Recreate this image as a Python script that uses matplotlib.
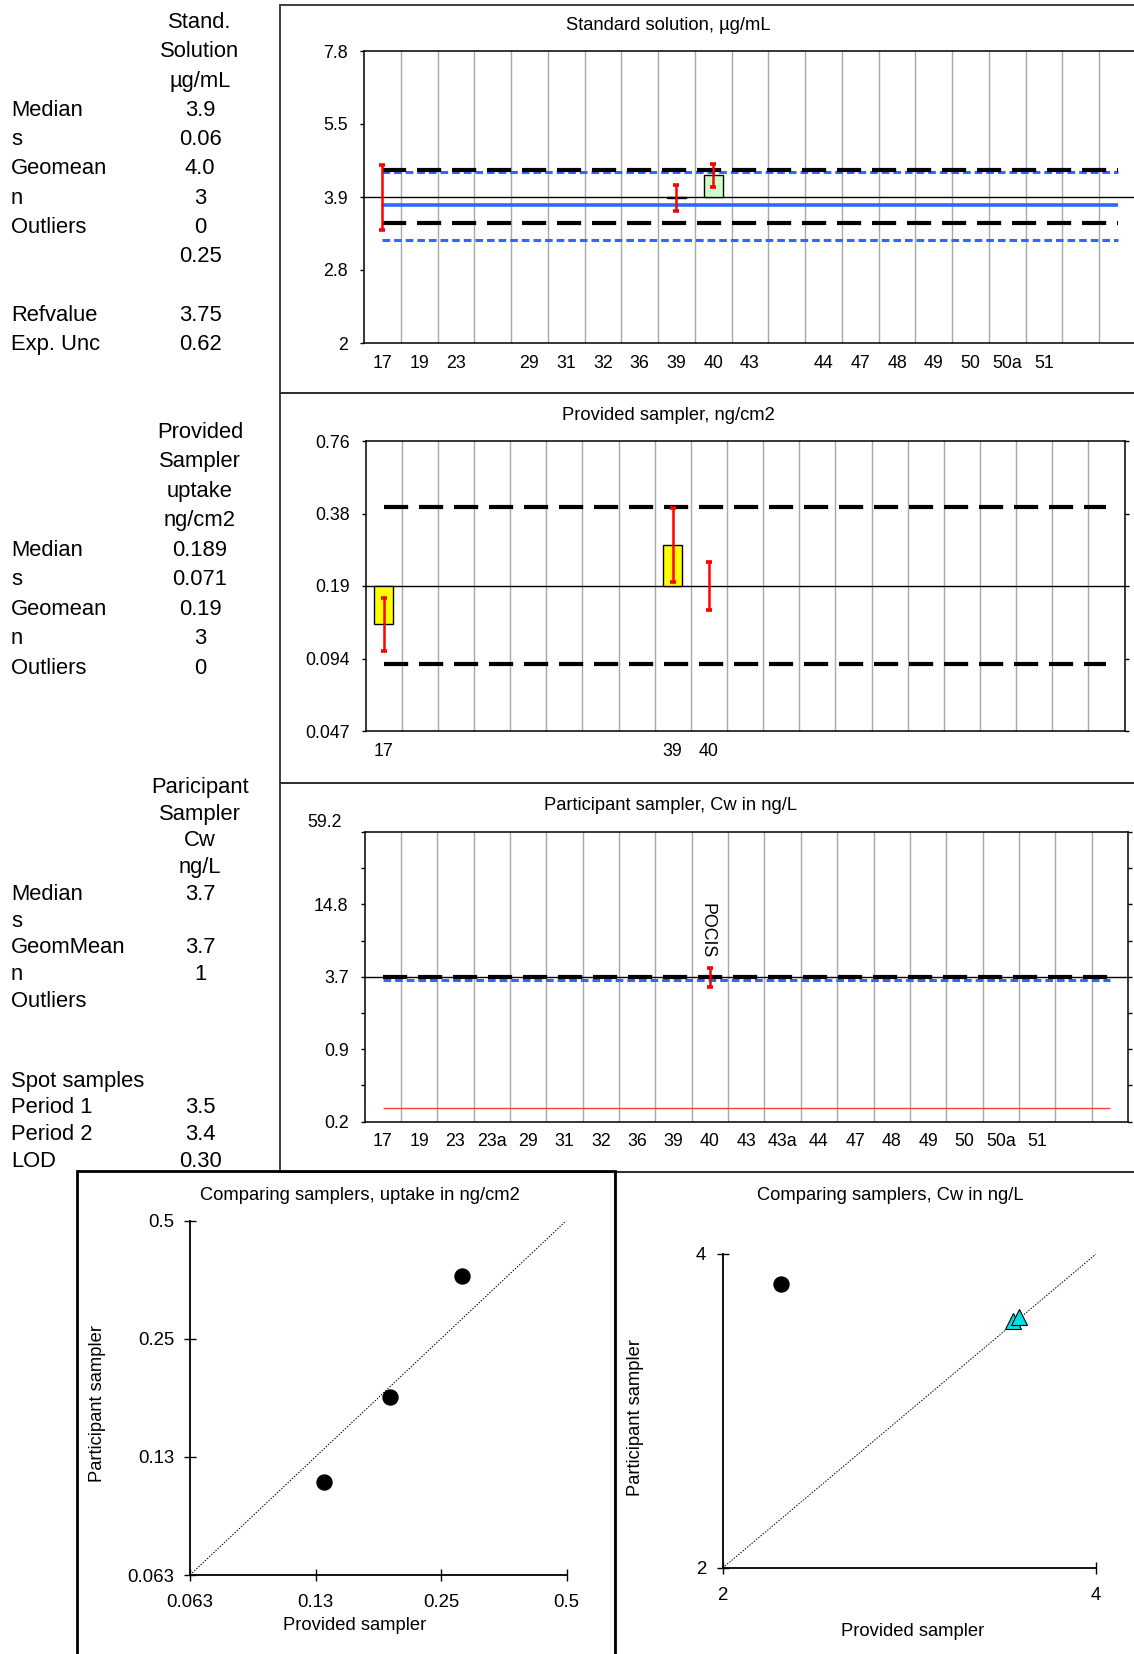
import matplotlib
matplotlib.use("Agg")
import matplotlib.pyplot as plt
from matplotlib.patches import Rectangle
from matplotlib.ticker import FixedLocator, FixedFormatter, NullLocator, NullFormatter

plt.rcParams['font.family'] = ['Liberation Sans', 'DejaVu Sans']

W, H = 1134, 1654

# --- Standardlösung (µg/mL) ---
std_labels = ['17', '19', '23', '', '29', '31', '32', '36', '39', '40', '43', '',
              '44', '47', '48', '49', '50', '50a', '51', '', '']
std_labs = ['17', '39', '40']
std_val = [3.90, 3.88, 4.33]
std_lo = [3.33, 3.65, 4.09]
std_hi = [4.55, 4.13, 4.57]
std_median = 3.9
std_lim = [3.44, 4.43]
std_ref = 3.75
std_ref_lim = [3.18, 4.40]
std_ticklabels = ['2', '2.8', '3.9', '5.5', '7.8']

# --- Provided sampler (ng/cm2) ---
prov_labels = ['17', '', '', '', '', '', '', '', '39', '40', '', '',
               '', '', '', '', '', '', '', '', '']
prov_labs = ['17', '39', '40']
prov_val = [0.131, 0.280, 0.189]
prov_lo = [0.102, 0.197, 0.150]
prov_hi = [0.168, 0.397, 0.238]
prov_median = 0.189
prov_lim = [0.0893, 0.403]
prov_ticklabels = ['0.047', '0.094', '0.19', '0.38', '0.76']

# --- Participant sampler (Cw ng/L) ---
part_labels = ['17', '19', '23', '23a', '29', '31', '32', '36', '39', '40', '43', '43a',
               '44', '47', '48', '49', '50', '50a', '51', '', '']
part_labs = ['40']
part_val = [3.7]
part_lo = [3.06]
part_hi = [4.40]
part_median = 3.7
part_spot = 3.45
part_lod = 0.30
part_ticklabels = ['0.2', '0.9', '3.7', '14.8', '']

# --- Vergleich ---
cmp_prov = [0.131, 0.189, 0.280]
cmp_part = [0.108, 0.178, 0.362]
cw_prov = [2.23]
cw_part = [3.74]
spot_prov = [3.43, 3.47]
spot_part = [3.45, 3.48]

# --- Tabellen links ---
tab1_head = ['Stand.', 'Solution', 'µg/mL']
tab1_rows = ['Median', 's', 'Geomean', 'n', 'Outliers', '', '', 'Refvalue', 'Exp. Unc']
tab1_vals = ['3.9', '0.06', '4.0', '3', '0', '0.25', '', '3.75', '0.62']
tab2_head = ['Provided', 'Sampler', 'uptake', 'ng/cm2']
tab2_rows = ['Median', 's', 'Geomean', 'n', 'Outliers']
tab2_vals = ['0.189', '0.071', '0.19', '3', '0']
tab3_head = ['Paricipant', 'Sampler', 'Cw', 'ng/L']
tab3_rows = ['Median', 's', 'GeomMean', 'n', 'Outliers', '', '',
             'Spot samples', 'Period 1', 'Period 2', 'LOD']
tab3_vals = ['3.7', '', '3.7', '1', '', '', '', '', '3.5', '3.4', '0.30']

BLUE = '#3366FF'


def box(l, t, r, b):
    return [l / W, 1 - b / H, (r - l) / W, (b - t) / H]


def ftext(x, y, s, **kw):
    fig.text(x / W, 1 - y / H, s, **kw)


def frame(l, t, r, b, color='#303030', lw=1.3):
    fig.add_artist(Rectangle((l / W, 1 - b / H), (r - l) / W, (b - t) / H,
                             transform=fig.transFigure, fill=False,
                             edgecolor=color, linewidth=lw))


def cat_panel(rect, labels, labs, val, lo, hi, median, step, ticklabels, barcolor, minor=False):
    ax = fig.add_axes(rect)
    ax.set_yscale('log')
    n = len(labels)
    ticks = [median * step ** k for k in range(-2, 3)]
    ax.set_xlim(-0.5, n - 0.5)
    ax.set_ylim(ticks[0], ticks[-1])
    ax.yaxis.set_major_locator(FixedLocator(ticks))
    ax.yaxis.set_major_formatter(FixedFormatter(ticklabels))
    if minor:
        ax.yaxis.set_minor_locator(FixedLocator([median * step ** (k + 0.5) for k in range(-2, 2)]))
    else:
        ax.yaxis.set_minor_locator(NullLocator())
    ax.yaxis.set_minor_formatter(NullFormatter())
    ax.set_xticks(range(n), labels)
    ax.set_xticks([i + 0.5 for i in range(n - 1)], minor=True)
    ax.grid(which='minor', axis='x', color='#A8A8A8', lw=1.0)
    ax.set_axisbelow(True)
    ax.tick_params(axis='x', which='both', length=0, pad=8.5, labelsize=12.8)
    ax.tick_params(axis='y', which='both', direction='out', length=3, width=1,
                   pad=8.5, labelsize=12.8, right=True)
    for s in ax.spines.values():
        s.set_color('black'); s.set_linewidth(1.1)
    ax.axhline(median, color='black', lw=1.0, zorder=2)
    for lab, v in zip(labs, val):
        xi = labels.index(lab)
        if abs(v - median) > 1e-9:
            ax.bar(xi, v - median, bottom=median, width=0.52, color=barcolor,
                   edgecolor='black', linewidth=1.0, zorder=3)
    xs = [labels.index(lab) for lab in labs]
    ax.errorbar(xs, val, yerr=[[v - l for v, l in zip(val, lo)], [h - v for v, h in zip(val, hi)]],
                fmt='none', ecolor='red', elinewidth=1.8, capsize=2.2, capthick=2.6, zorder=6)
    return ax


def hline(ax, y, n, **kw):
    ax.plot([0, n - 1], [y, y], solid_capstyle='butt', dash_capstyle='butt', **kw)


fig = plt.figure(figsize=(W / 100, H / 100), dpi=100)

# Rahmen
frame(280, 4.5, W + 5, 393)
frame(280, 393, W + 5, 783)
frame(280, 783, W + 5, 1172)

# Panel 1
ax1 = cat_panel(box(364, 51, 1136, 343), std_labels, std_labs, std_val, std_lo, std_hi,
                std_median, 2 ** 0.5, std_ticklabels, '#CCFFCC')
n1 = len(std_labels)
for y in std_ref_lim:
    hline(ax1, y, n1, color=BLUE, lw=2.2, dashes=(2.5, 1.3), zorder=4)
for y in std_lim:
    hline(ax1, y, n1, color='black', lw=3, dashes=(5.8, 2.6), zorder=4)
hline(ax1, std_ref, n1, color=BLUE, lw=2.6, zorder=4)
ftext(668, 25, 'Standard solution, µg/mL', ha='center', va='center', fontsize=13.2)

# Panel 2
ax2 = cat_panel(box(365.5, 441, 1124.5, 731), prov_labels, prov_labs, prov_val, prov_lo, prov_hi,
                prov_median, 2, prov_ticklabels, '#FFFF00')
n2 = len(prov_labels)
for y in prov_lim:
    hline(ax2, y, n2, color='black', lw=3, dashes=(5.8, 2.6), zorder=4)
ftext(668, 415, 'Provided sampler, ng/cm2', ha='center', va='center', fontsize=13.2)

# Panel 3
ax3 = cat_panel(box(364.5, 832, 1128, 1121.5), part_labels, part_labs, part_val, part_lo, part_hi,
                part_median, 4, part_ticklabels, '#FFFF00', minor=True)
n3 = len(part_labels)
hline(ax3, part_spot, n3, color=BLUE, lw=2.2, dashes=(2.5, 1.3), zorder=4)
hline(ax3, part_median, n3, color='black', lw=3, dashes=(5.8, 2.6), zorder=4)
hline(ax3, part_lod, n3, color='#FF4040', lw=1.0, zorder=4)
ax3.text(8.92, 8.9, 'POCIS', rotation=270, ha='center', va='center', fontsize=12.8, zorder=7)
ax3.annotate('59.2', xy=(0, 1), xycoords='axes fraction', xytext=(-16, 6.5),
             textcoords='offset points', ha='right', va='center', fontsize=12.8)
ftext(671, 805, 'Participant sampler, Cw in ng/L', ha='center', va='center', fontsize=13.2)

# Streudiagramme
frame(615, 1172, W + 5, H + 5)
frame(77, 1171, 615, H + 5, color='black', lw=2)


def scatter_axes(rect, lo, hi, ticks, ticklabels):
    ax = fig.add_axes(rect)
    ax.set_xscale('log'); ax.set_yscale('log')
    ax.set_xlim(lo, hi); ax.set_ylim(lo, hi)
    for a in (ax.xaxis, ax.yaxis):
        a.set_major_locator(FixedLocator(ticks))
        a.set_major_formatter(FixedFormatter(ticklabels))
        a.set_minor_locator(NullLocator())
    ax.spines[['top', 'right']].set_visible(False)
    for s in ('left', 'bottom'):
        ax.spines[s].set_linewidth(1.3)
    ax.tick_params(direction='inout', length=8, width=1, labelsize=13.4)
    ax.plot([lo, hi], [lo, hi], color='black', lw=0.7, ls=(0, (1.5, 1.5)))
    return ax


sc1 = scatter_axes(box(190, 1220.5, 566.5, 1575), 0.0625, 0.5,
                   [0.0625, 0.125, 0.25, 0.5], ['0.063', '0.13', '0.25', '0.5'])
sc1.tick_params(axis='y', pad=7)
sc1.tick_params(axis='x', pad=10)
sc1.plot(cmp_prov, cmp_part, 'o', color='black', ms=10.8, clip_on=False)
ftext(360, 1195, 'Comparing samplers, uptake in ng/cm2', ha='center', va='center', fontsize=13.2)
ftext(355, 1625, 'Provided sampler', ha='center', va='center', fontsize=13.2)
ftext(98, 1403, 'Participant sampler', ha='center', va='center', rotation=90, fontsize=13.2)

sc2 = scatter_axes(box(722.6, 1254, 1096, 1568), 2, 4, [2, 4], ['2', '4'])
sc2.tick_params(axis='y', pad=8)
sc2.tick_params(axis='x', pad=10)
sc2.plot(cw_prov, cw_part, 'o', color='black', ms=10.8, clip_on=False)
sc2.plot(spot_prov, spot_part, '^', color='#00E0E0', mec='black', mew=0.8, ms=11, ls='none')
ftext(890, 1196, 'Comparing samplers, Cw in ng/L', ha='center', va='center', fontsize=13.2)
ftext(913, 1631, 'Provided sampler', ha='center', va='center', fontsize=13.2)
ftext(636, 1418, 'Participant sampler', ha='center', va='center', rotation=90, fontsize=13.2)

# Tabellen
TX, VX, FS = 11, 200, 15.8


def table(y0, step, head, rows, vals):
    for i, h in enumerate(head):
        ftext(VX, y0 + i * step, h, ha='center', va='center', fontsize=FS)
    for j, (r, v) in enumerate(zip(rows, vals)):
        y = y0 + (len(head) + j) * step
        if r:
            ftext(TX, y, r, ha='left', va='center', fontsize=FS)
        if v:
            ftext(VX, y, v, ha='center', va='center', fontsize=FS)


table(22.5, 29.27, tab1_head, tab1_rows, tab1_vals)
table(432.5, 29.45, tab2_head, tab2_rows, tab2_vals)
table(787.5, 26.7, tab3_head, tab3_rows, tab3_vals)

fig.savefig('out.png', dpi=100)
